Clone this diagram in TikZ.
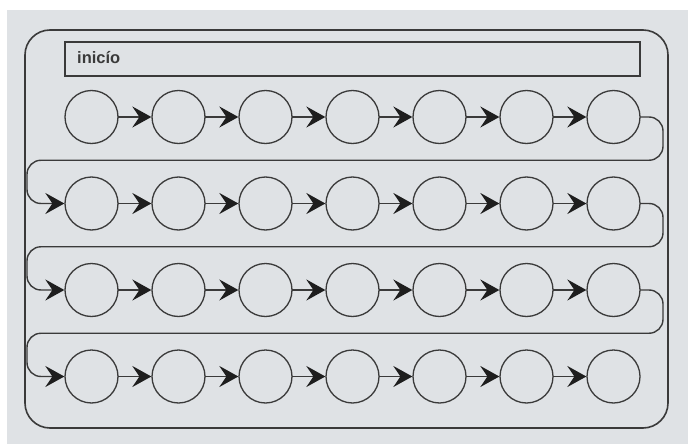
\documentclass[tikz,border=0pt]{standalone}
\usepackage{fontspec}
\setmainfont{Liberation Sans}
\usetikzlibrary{arrows.meta}
\definecolor{bg}{RGB}{223,226,229}
\definecolor{ln}{RGB}{58,58,58}
\definecolor{ah}{RGB}{30,30,30}
\tikzset{
  stop/.style={circle, draw=ln, line width=1.3pt, minimum size=53pt, inner sep=0pt},
  arr/.style={draw=ln, line width=1.4pt, -{Stealth[length=19pt, width=21pt, inset=7pt, color=ah]}, shorten <=-0.6pt},
  turn/.style={arr, rounded corners=14pt},
  frame/.style={draw=ln, line width=1.6pt},
  title/.style={draw=ln, line width=1.5pt},
}
\begin{document}
\begin{tikzpicture}[x=1pt, y=-1pt]
\useasboundingbox (0,0) rectangle (688,444);
\fill[bg] (7,10) rectangle (688,444);
\draw[frame, rounded corners=25pt] (25,30) rectangle (668,428);
\node[title, minimum width=575pt, minimum height=34pt, inner sep=0pt] (ini) at (352.5,59) {};
\node[anchor=west, font=\bfseries\fontsize{16.5}{16.5}\selectfont, text=ln, inner sep=0pt] (t) at (77,58) {inicío};
\foreach \r/\y in {1/117,2/203.5,3/290,4/376.5}{
  \foreach \c in {1,...,7}{
    \node[stop] (c\r\c) at ({91.5+87*(\c-1)},\y) {};
  }
}
\foreach \r in {1,...,4}{
  \foreach \c [evaluate=\c as \n using int(\c+1)] in {1,...,6}{
    \draw[arr] (c\r\c) -- (c\r\n);
  }
}
\coordinate (r1) at (663,160.25);
\coordinate (l1) at (27,160.25);
\coordinate (r2) at (663,246.75);
\coordinate (l2) at (27,246.75);
\coordinate (r3) at (663,333.25);
\coordinate (l3) at (27,333.25);
\draw[turn] (c17.east) -| (r1) -- (l1) |- (c21.west);
\draw[turn] (c27.east) -| (r2) -- (l2) |- (c31.west);
\draw[turn] (c37.east) -| (r3) -- (l3) |- (c41.west);
\end{tikzpicture}
\end{document}
